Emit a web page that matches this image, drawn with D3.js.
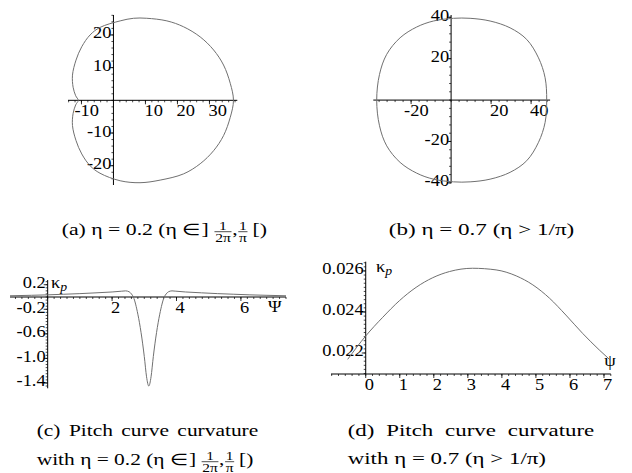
<!DOCTYPE html>
<html>
<head>
<meta charset="utf-8">
<script src="https://cdn.jsdelivr.net/npm/d3@7"></script>
<style>
  body { margin: 0; background: #fff; }
  text { font-family: "Liberation Serif", "Times New Roman", serif; fill: #000; }
</style>
</head>
<body>
<svg width="632" height="473"></svg>
<script>
// pitch curve, eta = 0.2 (x, y)
const loopA = [
  [37.5, 0], [36.5, 5.2], [34.4, 10.8], [31.3, 15.4], [27.1, 19.4], [21.9, 22.5],
  [16.7, 24.3], [10.4, 25.1], [6.3, 25.1], [2.1, 24.3], [-4.2, 22.3], [-7.3, 20.0],
  [-9.9, 16.4], [-11.7, 12.3], [-12.8, 7.7], [-12.6, 4.0], [-11.8, 1.4], [-11.0, 0],
  [-11.8, -1.4], [-12.6, -4.0], [-12.8, -7.7], [-11.7, -12.3], [-9.9, -16.4], [-7.3, -20.0],
  [-4.2, -22.3], [2.1, -24.6], [8.3, -25.2], [14.6, -24.4], [21.9, -22.5], [27.1, -19.4],
  [31.3, -15.4], [34.4, -10.8], [36.5, -5.2]
];
// pitch curve, eta = 0.7
const loopB = [
  [47.8, 0], [47.0, 10.8], [43.7, 20.4], [37.8, 29.3], [29.5, 34.9], [19.5, 38.2],
  [9.5, 39.5], [1.2, 39.5], [-8.8, 38.2], [-17.2, 35.3], [-25.5, 30.1], [-32.2, 22.1],
  [-35.8, 12.4], [-37.2, 0], [-35.8, -12.4], [-32.2, -22.1], [-25.5, -30.1], [-17.2, -35.3],
  [-8.8, -38.2], [1.2, -39.5], [9.5, -39.5], [19.5, -38.2], [29.5, -34.9], [37.8, -29.3],
  [43.7, -20.4], [47.0, -10.8]
];
// curvature, eta = 0.2
const psiC = [-1.17, -0.5, 0, 0.5, 1, 1.5, 2, 2.3, 2.42, 2.53, 2.6, 2.66, 2.8, 2.9, 3.0, 3.07, 3.14,
  3.21, 3.28, 3.38, 3.48, 3.62, 3.68, 3.75, 3.86, 3.98, 4.28, 4.78, 5.28, 5.78, 6.28, 6.78, 7.4];
const kappaC = [0.02, 0.028, 0.035, 0.045, 0.055, 0.068, 0.082, 0.095, 0.1, 0.085, 0.05, 0.0, -0.28, -0.58, -0.97, -1.3, -1.45,
  -1.3, -0.97, -0.58, -0.28, 0.0, 0.05, 0.085, 0.1, 0.095, 0.082, 0.068, 0.055, 0.045, 0.035, 0.028, 0.02];
// curvature, eta = 0.7
const psiD = [-0.53, 0, 0.5, 0.99, 1.48, 1.97, 2.46, 3.14, 3.83, 4.42, 4.91, 5.4, 5.88, 6.37, 6.86, 7.16];
const kappaD = [0.02169, 0.02283, 0.02374, 0.02455, 0.0252, 0.02567, 0.02597, 0.02613, 0.02605,
  0.02576, 0.02532, 0.02467, 0.02385, 0.02296, 0.02215, 0.02169];

const ticksAX = [-10, 10, 20, 30], ticksAY = [-20, -10, 10, 20];
const ticksBX = [-20, 20, 40], ticksBY = [-40, -20, 20, 40];
const ticksCX = [2, 4, 6], ticksCY = [0.2, -0.2, -0.6, -1.0, -1.4];
const ticksDX = [0, 1, 2, 3, 4, 5, 6, 7], ticksDY = [0.022, 0.024, 0.026];

const svg = d3.select("svg");
const ink = "#000";
const curveInk = "#707070";
const SX = 1.15;   // glyphs in the picture are wider than plain Times
const FS = 16;

function label(g, x, y, str, anchor) {
  return g.append("text")
    .attr("transform", `translate(${x},${y}) scale(${SX},1)`)
    .attr("text-anchor", anchor || "start")
    .attr("font-size", FS)
    .text(str);
}

function steps([a, b], s) {
  const lo = Math.ceil(a / s - 1e-9), hi = Math.floor(b / s + 1e-9);
  return d3.range(lo, hi + 1).map(k => k * s);
}

function axes(g, x, y, o) {
  const ax = y(o.yCross), ay = x(o.xCross);
  g.append("line").attr("x1", x.range()[0]).attr("x2", x.range()[1])
    .attr("y1", ax).attr("y2", ax).attr("stroke", ink);
  g.append("line").attr("x1", ay).attr("x2", ay)
    .attr("y1", y.range()[0]).attr("y2", y.range()[1]).attr("stroke", ink);

  steps(x.domain(), o.xMinor).forEach(v => {
    g.append("line").attr("x1", x(v)).attr("x2", x(v))
      .attr("y1", ax).attr("y2", ax + 2).attr("stroke", ink).attr("stroke-width", 0.7);
  });
  steps(y.domain(), o.yMinor).forEach(v => {
    g.append("line").attr("x1", ay - 2).attr("x2", ay)
      .attr("y1", y(v)).attr("y2", y(v)).attr("stroke", ink).attr("stroke-width", 0.7);
  });

  o.xTicks.forEach(v => {
    g.append("line").attr("x1", x(v)).attr("x2", x(v))
      .attr("y1", ax).attr("y2", ax + 4).attr("stroke", ink).attr("stroke-width", 0.8);
    label(g, x(v) - 1 - (v < 0 ? 6 : 0), ax + 16, o.fx(v), "start");
  });
  o.yTicks.forEach(v => {
    g.append("line").attr("x1", ay - 4).attr("x2", ay)
      .attr("y1", y(v)).attr("y2", y(v)).attr("stroke", ink).attr("stroke-width", 0.8);
    label(g, ay - 2, y(v) + 3.5, o.fy(v), "end");
  });
}

function kappaLabel(g, x, y) {
  const t = g.append("text")
    .attr("transform", `translate(${x},${y}) scale(${SX},1)`)
    .attr("font-size", FS);
  t.append("tspan").text("κ");
  t.append("tspan").attr("font-size", 12).attr("font-style", "italic").attr("dy", 3).text("p");
}

// text run with stacked fractions, returns natural width
function mathRun(g, parts, size) {
  let cx = 0;
  parts.forEach(p => {
    if (typeof p === "string") {
      const t = g.append("text").attr("x", cx).attr("font-size", size).text(p);
      cx += t.node().getComputedTextLength();
    } else {
      const fs = size * 0.72;
      const n = g.append("text").attr("font-size", fs).attr("text-anchor", "middle")
        .attr("y", -size * 0.3).text(p.num);
      const d = g.append("text").attr("font-size", fs).attr("text-anchor", "middle")
        .attr("y", size * 0.41).text(p.den);
      const w = Math.max(n.node().getComputedTextLength(), d.node().getComputedTextLength()) + 2;
      n.attr("x", cx + w / 2);
      d.attr("x", cx + w / 2);
      g.append("line").attr("x1", cx + 0.5).attr("x2", cx + w - 0.5)
        .attr("y1", -size * 0.2).attr("y2", -size * 0.2)
        .attr("stroke", ink).attr("stroke-width", 0.6);
      cx += w;
    }
  });
  return cx;
}

const CAP = 16.5;
function caption(parts, left, baseline, width) {
  const g = svg.append("g");
  const w = mathRun(g, parts, CAP);
  const sx = width / w;
  g.attr("transform", `translate(${left},${baseline}) scale(${sx},1)`);
  return sx;
}

function justified(words, left, right, baseline, sx) {
  const g = svg.append("g");
  const ts = words.map(w => g.append("text").attr("font-size", CAP).text(w));
  const ws = ts.map(t => t.node().getComputedTextLength() * sx);
  const gap = (right - left - d3.sum(ws)) / (words.length - 1);
  let cx = left;
  ts.forEach((t, i) => {
    t.attr("transform", `translate(${cx},${baseline}) scale(${sx},1)`);
    cx += ws[i] + gap;
  });
}

const fmtInt = v => String(v);
const fmt1 = v => v.toFixed(1);
const fmt3 = v => v.toFixed(3);

// (a)
const xA = d3.scaleLinear().domain([-14.2, 38.7]).range([68, 237.3]);
const yA = d3.scaleLinear().domain([-25.9, 26.1]).range([185, 15]);
const gA = svg.append("g");
axes(gA, xA, yA, { xCross: 0, yCross: 0, xMinor: 2, yMinor: 2,
  xTicks: ticksAX, yTicks: ticksAY, fx: fmtInt, fy: fmtInt });
gA.append("path")
  .attr("d", d3.line().x(d => xA(d[0])).y(d => yA(d[1])).curve(d3.curveCatmullRomClosed.alpha(0.5))(loopA))
  .attr("fill", "none").attr("stroke", curveInk).attr("stroke-width", 1);

// (b)
const xB = d3.scaleLinear().domain([-38.9, 49.5]).range([373.3, 550.1]);
const yB = d3.scaleLinear().domain([-40.2, 41.1]).range([183.3, 15]);
const gB = svg.append("g");
axes(gB, xB, yB, { xCross: 0, yCross: 0, xMinor: 4, yMinor: 4,
  xTicks: ticksBX, yTicks: ticksBY, fx: fmtInt, fy: fmtInt });
gB.append("path")
  .attr("d", d3.line().x(d => xB(d[0])).y(d => yB(d[1])).curve(d3.curveCatmullRomClosed.alpha(0.5))(loopB))
  .attr("fill", "none").attr("stroke", curveInk).attr("stroke-width", 1);

// (c)
const xC = d3.scaleLinear().domain([-1.17, 7.4]).range([10, 286]);
const yC = d3.scaleLinear().domain([-1.487, 0.277]).range([388.3, 280]);
const gC = svg.append("g");
axes(gC, xC, yC, { xCross: 0, yCross: 0, xMinor: 0.2, yMinor: 0.05,
  xTicks: ticksCX, yTicks: ticksCY, fx: fmtInt, fy: fmt1 });
gC.append("path")
  .attr("d", d3.line().x((d, i) => xC(psiC[i])).y(d => yC(d)).curve(d3.curveMonotoneX)(kappaC))
  .attr("fill", "none").attr("stroke", curveInk).attr("stroke-width", 1);
kappaLabel(gC, 51, 288);
label(gC, 268, 311.5, "Ψ", "start");

// (d)
const xD = d3.scaleLinear().domain([-1.02, 7.2]).range([331, 610.8]);
const yD = d3.scaleLinear().domain([0.020976, 0.02645]).range([374, 261.7]);
const gD = svg.append("g");
axes(gD, xD, yD, { xCross: 0, yCross: yD.domain()[0], xMinor: 0.2, yMinor: 0.0002,
  xTicks: ticksDX, yTicks: ticksDY, fx: fmtInt, fy: fmt3 });
gD.append("path")
  .attr("d", d3.line().x((d, i) => xD(psiD[i])).y(d => yD(d)).curve(d3.curveMonotoneX)(kappaD))
  .attr("fill", "none").attr("stroke", curveInk).attr("stroke-width", 1);
kappaLabel(gD, 376, 271.5);
label(gD, 610, 366, "ψ", "middle");

// captions
const fracA = [{ num: "1", den: "2π" }, ", ", { num: "1", den: "π" }, "\u2009[)"];
caption(["(a) η = 0.2 (η ∈]\u2009"].concat(fracA), 61.7, 235, 205.3);
caption(["(b) η = 0.7 (η > 1/π)"], 388.7, 235, 185.7);
const sxC = caption(["with η = 0.2 (η ∈]\u2009"].concat(fracA), 36.7, 465, 216.7);
justified(["(c)", "Pitch", "curve", "curvature"], 36.7, 258.3, 436, sxC);
const sxD = caption(["with η = 0.7 (η > 1/π)"], 347.7, 463.5, 198.3);
justified(["(d)", "Pitch", "curve", "curvature"], 347.7, 594.3, 436, sxD);
</script>
</body>
</html>
